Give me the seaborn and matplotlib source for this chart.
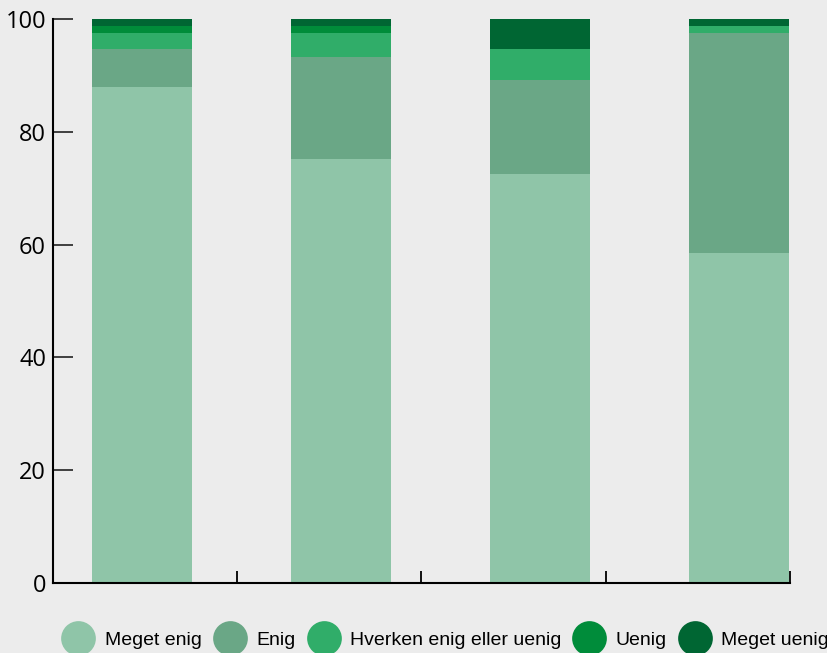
import pandas as pd
import seaborn as sns
import matplotlib.pyplot as plt
from matplotlib.lines import Line2D

# four groups, no visible labels on the x axis
groups = ["1", "2", "3", "4"]
responses = ["Meget enig", "Enig", "Hverken enig eller uenig", "Uenig", "Meget uenig"]

meget_enig = [87.9, 75.2, 72.5, 58.5]
enig = [6.8, 18.1, 16.7, 39.0]
hverken = [2.9, 4.2, 5.5, 1.3]
uenig = [1.2, 1.3, 0.0, 0.0]
meget_uenig = [1.2, 1.2, 5.3, 1.2]

colors = ["#8fc5a8", "#6aa786", "#30ad69", "#008c3a", "#006633"]
yticks = [0, 20, 40, 60, 80, 100]

df = pd.DataFrame({
    "group": groups,
    "Meget enig": meget_enig,
    "Enig": enig,
    "Hverken enig eller uenig": hverken,
    "Uenig": uenig,
    "Meget uenig": meget_uenig,
})
cum = df[responses].cumsum(axis=1)
cum["group"] = df["group"]

sns.set_style("white")
bg = "#ececec"
plt.rcParams["font.family"] = ["Open Sans", "DejaVu Sans"]

fig = plt.figure(figsize=(8.28, 6.53), dpi=100, facecolor=bg)
ax = fig.add_axes([53 / 828, 1 - 583 / 653, (790 - 53) / 828, (583 - 19) / 653])
ax.set_facecolor(bg)

# stacked bars: draw the cumulative totals from the top segment down
for resp, col in reversed(list(zip(responses, colors))):
    sns.barplot(data=cum, x="group", y=resp, color=col, width=0.5,
                saturation=1, errorbar=None, linewidth=0, ax=ax)

x0, x1 = -0.447, 3.256
ax.set_xlim(x0, x1)
ax.set_ylim(0, 100)
step = (x1 - x0) / 4
ax.set_xticks([x0 + step * k for k in range(1, 5)])
ax.set_xticklabels([])
ax.set_yticks(yticks)
ax.set_xlabel("")
ax.set_ylabel("")

ax.tick_params(axis="x", bottom=True, direction="in", length=8.8, width=1.4, color="#111111")
ax.tick_params(axis="y", left=True, direction="in", length=14.4, width=1.2, color="#222222",
               pad=5, labelsize=17, labelcolor="black")
for s in ["top", "right"]:
    ax.spines[s].set_visible(False)
for s in ["left", "bottom"]:
    ax.spines[s].set_linewidth(1.5)
    ax.spines[s].set_color("black")
    ax.spines[s].set_zorder(5)

handles = [Line2D([], [], marker="o", linestyle="", markersize=25,
                  markerfacecolor=c, markeredgewidth=0) for c in colors]
leg = fig.legend(handles, responses, loc="center left", bbox_to_anchor=(61 / 828, 1 - 640 / 653),
                 ncol=5, frameon=False, borderpad=0, borderaxespad=0,
                 handlelength=1.8, handletextpad=0.45, columnspacing=0.55,
                 prop={"family": ["Liberation Sans", "DejaVu Sans"], "size": 14})
for t in leg.get_texts():
    t.set_color("black")

fig.savefig("out.png", dpi=100, facecolor=bg)
